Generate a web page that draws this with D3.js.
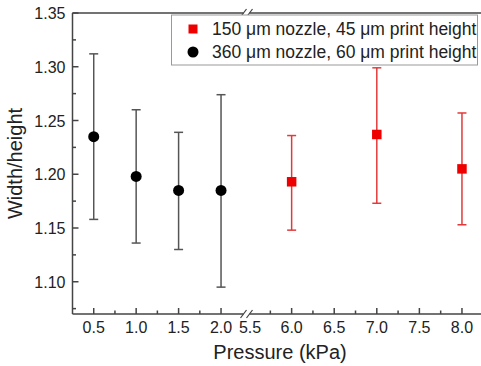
<!DOCTYPE html>
<html>
<head>
<meta charset="utf-8">
<script src="https://cdn.jsdelivr.net/npm/d3@7"></script>
<style>
body{margin:0;background:white;}
</style>
</head>
<body>
<div id="viz-container"></div>
<script>
let svgWidth = 481;
let svgHeight = 366;

// data
let pressureSmall = [0.5, 1.0, 1.5, 2.0];
let ratioSmall = [1.235, 1.198, 1.185, 1.185];
let upperSmall = [1.312, 1.260, 1.239, 1.274];
let lowerSmall = [1.158, 1.136, 1.130, 1.095];

let pressureBig = [6.0, 7.0, 8.0];
let ratioBig = [1.193, 1.237, 1.205];
let upperBig = [1.236, 1.299, 1.257];
let lowerBig = [1.148, 1.173, 1.153];

let xMajor = [0.5, 1.0, 1.5, 2.0, 5.5, 6.0, 6.5, 7.0, 7.5, 8.0];
let xMinor = [0.75, 1.25, 1.75, 5.75, 6.25, 6.75, 7.25, 7.75];
let yMajor = [1.10, 1.15, 1.20, 1.25, 1.30, 1.35];
let yMinor = [1.075, 1.125, 1.175, 1.225, 1.275, 1.325];

let legendLabels = ["150 \u03bcm nozzle, 45 \u03bcm print height", "360 \u03bcm nozzle, 60 \u03bcm print height"];

let plotLeft = 72.5, plotRight = 479, plotTop = 13, plotBottom = 314;
let breakX = 246.5;
let axisColor = "#444";
let font = "'Liberation Sans', Arial, sans-serif";

let viz = d3.select("#viz-container")
  .append("svg")
    .attr("width",svgWidth)
    .attr("height",svgHeight)
    .style("background-color","white")
    ;

// broken x axis: two linear pieces joined at the break
let xScale = d3.scaleLinear()
    .domain([0.25, 2.3, 5.47, 8.2])
    .range([plotLeft, breakX, breakX, plotRight])
    ;
let yScale = d3.scaleLinear()
    .domain([1.07, 1.35])
    .range([plotBottom, plotTop])
    ;

let smallData = pressureSmall.map(function(p,i){
    return {x:p, y:ratioSmall[i], hi:upperSmall[i], lo:lowerSmall[i]};
});
let bigData = pressureBig.map(function(p,i){
    return {x:p, y:ratioBig[i], hi:upperBig[i], lo:lowerBig[i]};
});

// axes lines
viz.append("line")
    .attr("x1",plotLeft).attr("y1",plotTop)
    .attr("x2",plotLeft).attr("y2",plotBottom)
    .attr("stroke",axisColor).attr("stroke-width",1.5)
    ;
viz.append("line")
    .attr("x1",plotLeft).attr("y1",plotBottom)
    .attr("x2",plotRight+2).attr("y2",plotBottom)
    .attr("stroke",axisColor).attr("stroke-width",1.5)
    ;
viz.append("line")
    .attr("x1",plotLeft).attr("y1",plotTop)
    .attr("x2",plotRight+2).attr("y2",plotTop)
    .attr("stroke",axisColor).attr("stroke-width",1.5)
    ;

// y ticks (inside)
viz.selectAll(".yMajor").data(yMajor).enter()
    .append("line")
    .attr("class","yMajor")
    .attr("x1",plotLeft).attr("x2",plotLeft+6)
    .attr("y1",d => yScale(d)).attr("y2",d => yScale(d))
    .attr("stroke",axisColor).attr("stroke-width",1.5)
    ;
viz.selectAll(".yMinor").data(yMinor).enter()
    .append("line")
    .attr("class","yMinor")
    .attr("x1",plotLeft).attr("x2",plotLeft+3.5)
    .attr("y1",d => yScale(d)).attr("y2",d => yScale(d))
    .attr("stroke",axisColor).attr("stroke-width",1.5)
    ;
viz.selectAll(".yLabel").data(yMajor).enter()
    .append("text")
    .attr("class","yLabel")
    .text(d => d.toFixed(2))
    .attr("x",plotLeft-7)
    .attr("y",d => yScale(d)+6)
    .attr("text-anchor","end")
    .attr("font-family",font)
    .attr("font-size",16)
    .attr("fill","#222")
    ;

// x ticks (inside)
viz.selectAll(".xMajor").data(xMajor.filter(d => d != 5.5)).enter()
    .append("line")
    .attr("class","xMajor")
    .attr("x1",d => xScale(d)).attr("x2",d => xScale(d))
    .attr("y1",plotBottom).attr("y2",plotBottom-6)
    .attr("stroke",axisColor).attr("stroke-width",1.5)
    ;
viz.selectAll(".xMinor").data(xMinor).enter()
    .append("line")
    .attr("class","xMinor")
    .attr("x1",d => xScale(d)).attr("x2",d => xScale(d))
    .attr("y1",plotBottom).attr("y2",plotBottom-3.5)
    .attr("stroke",axisColor).attr("stroke-width",1.5)
    ;
viz.selectAll(".xLabel").data(xMajor).enter()
    .append("text")
    .attr("class","xLabel")
    .text(d => d.toFixed(1))
    .attr("x",d => d == 5.5 ? xScale(d) + 1 : xScale(d))
    .attr("y",plotBottom+19)
    .attr("text-anchor","middle")
    .attr("font-family",font)
    .attr("font-size",16)
    .attr("fill","#222")
    ;

// break marks on top and bottom axis
[plotTop, plotBottom].forEach(function(yy){
    viz.append("rect")
        .attr("x",breakX-3).attr("y",yy-2)
        .attr("width",6).attr("height",4)
        .attr("fill","white")
        ;
    [-3, 3].forEach(function(dx){
        viz.append("line")
            .attr("x1",breakX+dx-3).attr("y1",yy+4)
            .attr("x2",breakX+dx+3).attr("y2",yy-4)
            .attr("stroke",axisColor).attr("stroke-width",1.2)
            ;
    });
});

// axis titles
viz.append("text")
    .text("Pressure (kPa)")
    .attr("x",(213+347)/2)
    .attr("y",359)
    .attr("text-anchor","middle")
    .attr("font-family",font)
    .attr("font-size",20)
    .attr("fill","#222")
    ;
viz.append("text")
    .text("Width/height")
    .attr("transform","translate(22," + ((plotTop+plotBottom)/2) + ") rotate(-90)")
    .attr("text-anchor","middle")
    .attr("font-family",font)
    .attr("font-size",20)
    .attr("fill","#222")
    ;

// error bars
function drawErrors(data, color, capW, cls){
    let g = viz.selectAll("." + cls).data(data).enter()
        .append("g")
        .attr("class",cls)
        ;
    g.append("line")
        .attr("x1",d => xScale(d.x)).attr("x2",d => xScale(d.x))
        .attr("y1",d => yScale(d.hi)).attr("y2",d => yScale(d.lo))
        .attr("stroke",color).attr("stroke-width",1.5)
        ;
    g.append("line")
        .attr("x1",d => xScale(d.x)-capW/2).attr("x2",d => xScale(d.x)+capW/2)
        .attr("y1",d => yScale(d.hi)).attr("y2",d => yScale(d.hi))
        .attr("stroke",color).attr("stroke-width",1.5)
        ;
    g.append("line")
        .attr("x1",d => xScale(d.x)-capW/2).attr("x2",d => xScale(d.x)+capW/2)
        .attr("y1",d => yScale(d.lo)).attr("y2",d => yScale(d.lo))
        .attr("stroke",color).attr("stroke-width",1.5)
        ;
}
drawErrors(smallData, "#555", 9, "errSmall");
drawErrors(bigData, "#e23a3a", 9, "errBig");

viz.selectAll(".dotSmall").data(smallData).enter()
    .append("circle")
    .attr("class","dotSmall")
    .attr("cx",d => xScale(d.x))
    .attr("cy",d => yScale(d.y))
    .attr("r",5.5)
    .attr("fill","black")
    ;
viz.selectAll(".dotBig").data(bigData).enter()
    .append("rect")
    .attr("class","dotBig")
    .attr("x",d => xScale(d.x)-4.75)
    .attr("y",d => yScale(d.y)-4.75)
    .attr("width",9.5)
    .attr("height",9.5)
    .attr("fill","#ee0000")
    ;

// legend
let legend = viz.append("g").attr("class","legend");
legend.append("rect")
    .attr("x",171.5).attr("y",15)
    .attr("width",306).attr("height",50)
    .attr("fill","white")
    .attr("stroke","#999")
    .attr("stroke-width",1)
    ;
legend.append("rect")
    .attr("x",193-4.5).attr("y",29-4.5)
    .attr("width",9).attr("height",9)
    .attr("fill","#ee0000")
    ;
legend.append("circle")
    .attr("cx",193).attr("cy",52)
    .attr("r",5.5)
    .attr("fill","black")
    ;
legend.selectAll(".legendText").data(legendLabels).enter()
    .append("text")
    .attr("class","legendText")
    .text(d => d)
    .attr("x",212)
    .attr("y",(d,i) => 35 + i*23)
    .attr("font-family",font)
    .attr("font-size",17.5)
    .attr("fill","#222")
    ;
</script>
</body>
</html>
